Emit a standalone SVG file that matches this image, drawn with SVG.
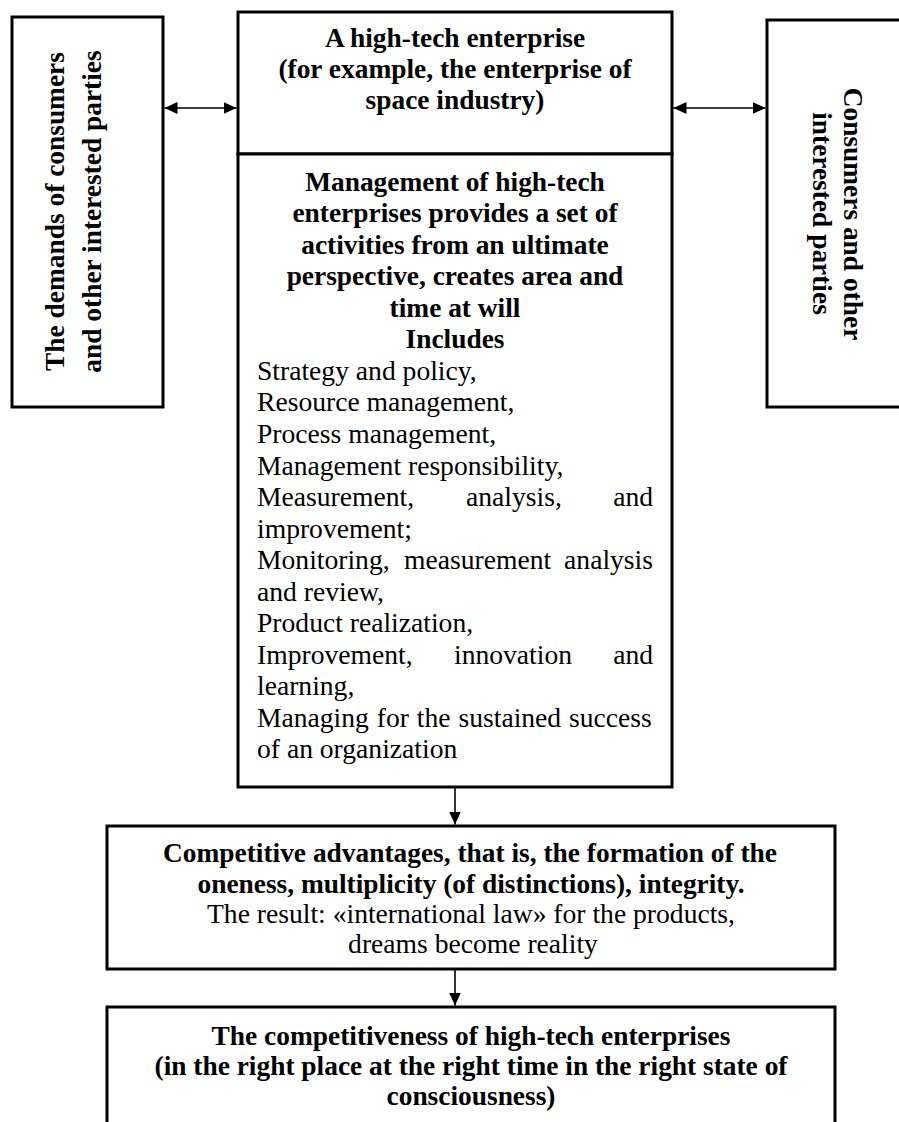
<svg xmlns="http://www.w3.org/2000/svg" width="899" height="1122" viewBox="0 0 899 1122">
<style>
.box{fill:#fff;stroke:#000;stroke-width:3}
.t{font-family:"Liberation Serif","Times New Roman",serif;font-size:27.6px;fill:#000}
.b{font-weight:bold;font-size:27.4px}
.c{text-anchor:middle}
.e{text-anchor:end}
.ln{stroke:#000;stroke-width:1.6;fill:none}
</style>
<defs>
<marker id="ah" markerUnits="userSpaceOnUse" markerWidth="14" markerHeight="12" viewBox="0 0 14 12" refX="13" refY="6" orient="auto-start-reverse">
<path d="M0,0 L13,6 L0,12 z" fill="#000"/>
</marker>
</defs>
<rect width="899" height="1122" fill="#fff"/>

<g id="connectors">
<line class="ln" x1="164.5" y1="108" x2="236.5" y2="108" marker-start="url(#ah)" marker-end="url(#ah)"/>
<line class="ln" x1="673.5" y1="108" x2="765.5" y2="108" marker-start="url(#ah)" marker-end="url(#ah)"/>
<line class="ln" x1="455" y1="788" x2="455" y2="824.5" marker-end="url(#ah)"/>
<line class="ln" x1="455" y1="970" x2="455" y2="1005.5" marker-end="url(#ah)"/>
</g>

<g id="demands">
<rect class="box" x="12" y="17" width="151" height="390"/>
<text class="t b c" transform="translate(64,211.5) rotate(-90)">The demands of consumers</text>
<text class="t b c" transform="translate(100.5,211.5) rotate(-90)">and other interested parties</text>
</g>

<g id="consumers">
<rect class="box" x="767" y="20" width="150" height="387"/>
<text class="t b c" transform="translate(844,214) rotate(90)">Consumers and other</text>
<text class="t b c" transform="translate(813,213.5) rotate(90)">interested parties</text>
</g>

<g id="enterprise">
<rect class="box" x="238" y="12" width="434" height="142"/>
<text class="t b c" x="455" y="47">A high-tech enterprise</text>
<text class="t b c" x="455" y="77.8">(for example, the enterprise of</text>
<text class="t b c" x="455" y="108.6">space industry)</text>
</g>

<g id="management">
<rect class="box" x="238" y="154" width="434" height="633"/>
<text class="t b c" x="455" y="190.7">Management of high-tech</text>
<text class="t b c" x="455" y="222.2">enterprises provides a set of</text>
<text class="t b c" x="455" y="253.8">activities from an ultimate</text>
<text class="t b c" x="455" y="285.3">perspective, creates area and</text>
<text class="t b c" x="455" y="316.8">time at will</text>
<text class="t b c" x="455" y="348.4">Includes</text>
<text class="t" x="257" y="379.9">Strategy and policy,</text>
<text class="t" x="257" y="411.4">Resource management,</text>
<text class="t" x="257" y="442.9">Process management,</text>
<text class="t" x="257" y="474.5">Management responsibility,</text>
<text class="t" x="257" y="506">Measurement,</text>
<text class="t" x="466" y="506">analysis,</text>
<text class="t e" x="653" y="506">and</text>
<text class="t" x="257" y="537.5">improvement;</text>
<text class="t" x="257" y="569.1">Monitoring,</text>
<text class="t" x="404" y="569.1">measurement</text>
<text class="t e" x="653" y="569.1">analysis</text>
<text class="t" x="257" y="600.6">and review,</text>
<text class="t" x="257" y="632.1">Product realization,</text>
<text class="t" x="257" y="663.7">Improvement,</text>
<text class="t" x="454" y="663.7">innovation</text>
<text class="t e" x="653" y="663.7">and</text>
<text class="t" x="257" y="695.2">learning,</text>
<text class="t" x="257" y="726.7" word-spacing="1">Managing for the sustained success</text>
<text class="t" x="257" y="758.3">of an organization</text>
</g>

<g id="advantages">
<rect class="box" x="107" y="826" width="728" height="143"/>
<text class="t b c" x="470" y="862">Competitive advantages, that is, the formation of the</text>
<text class="t b c" x="471" y="892.5">oneness, multiplicity (of distinctions), integrity.</text>
<text class="t c" x="471" y="923">The result: «international law» for the products,</text>
<text class="t c" x="473" y="953">dreams become reality</text>
</g>

<g id="competitiveness">
<rect class="box" x="107" y="1007" width="728" height="130"/>
<text class="t b c" x="471" y="1045">The competitiveness of high-tech enterprises</text>
<text class="t b c" x="471" y="1075">(in the right place at the right time in the right state of</text>
<text class="t b c" x="471" y="1105">consciousness)</text>
</g>
</svg>
